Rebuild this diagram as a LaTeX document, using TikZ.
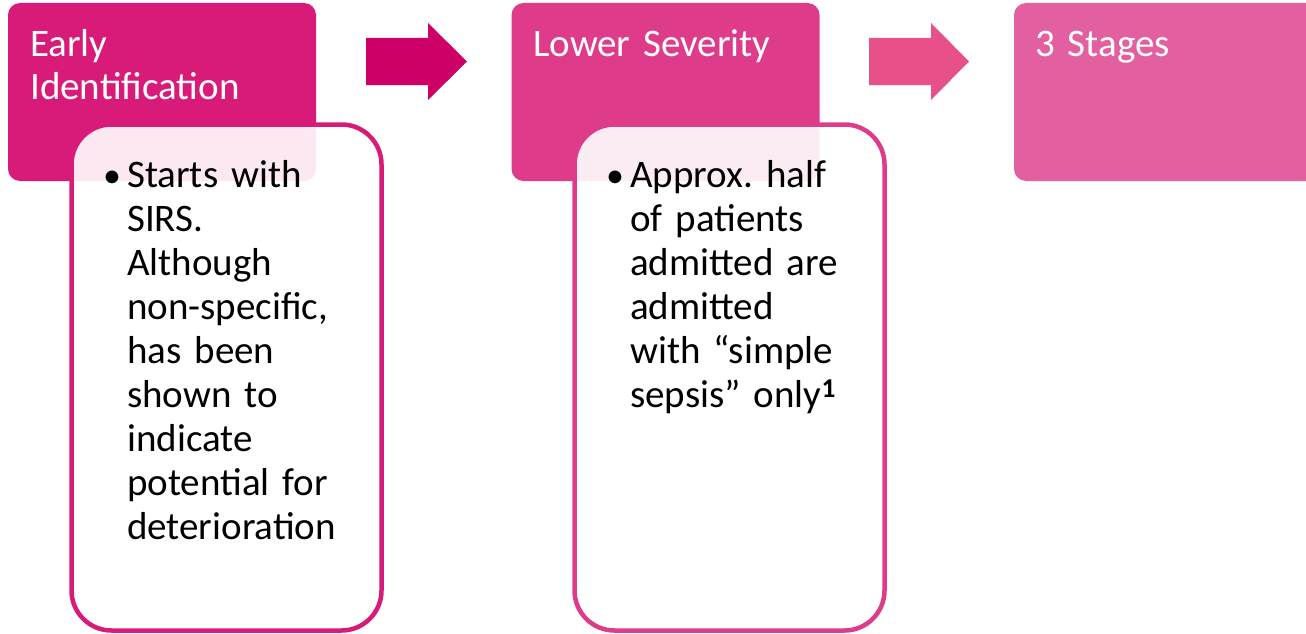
\documentclass[tikz,border=0pt]{standalone}
\usepackage{fontspec}
\setmainfont{Carlito}
\frenchspacing
\definecolor{pinkA}{HTML}{D81B78}
\definecolor{pinkB}{HTML}{DE3C8B}
\definecolor{pinkC}{HTML}{E360A0}
\definecolor{arrowA}{HTML}{CC0066}
\definecolor{arrowB}{HTML}{E8508A}
\tikzset{
  titlebox/.style={rectangle, rounded corners=12pt, minimum width=308pt, minimum height=178pt, inner sep=0pt, draw=none},
  detbox/.style={rectangle, rounded corners=40pt, minimum width=310pt, minimum height=506pt, inner sep=0pt, line width=4.5pt, fill=white, fill opacity=0.9, text opacity=1},
  titletext/.style={anchor=base west, inner sep=0pt, text width=290pt, align=left, text=white, font=\fontsize{39pt}{43pt}\selectfont\frenchspacing},
  bodytext/.style={anchor=base west, inner sep=0pt, text width=260pt, align=left, text=black, font=\fontsize{39pt}{44pt}\selectfont\frenchspacing},
  bullettext/.style={anchor=base, inner sep=0pt, text=black, font=\fontsize{36pt}{44pt}\selectfont},
  blockarrow/.style={draw=none}
}
\begin{document}
\begin{tikzpicture}[x=1pt,y=-1pt]
\useasboundingbox (0,0) rectangle (1306,634);
\clip (0,0) rectangle (1306,634);
% title boxes
\node[titlebox, fill=pinkA] (t1) at (162,92) {};
\node[titlebox, fill=pinkB] (t2) at (665.5,92) {};
\node[titlebox, fill=pinkC, minimum width=330pt] (t3) at (1179,92) {};
% titles
\node[titletext] (l1) at (30,57) {Early\\Identification};
\node[titletext] (l2) at (533,57) {Lower Severity};
\node[titletext] (l3) at (1035,57) {3 Stages};
% arrows
\fill[arrowA] (366,38) -- (428,38) -- (428,23) -- (467,61.5) -- (428,100) -- (428,85) -- (366,85) -- cycle;
\fill[arrowB] (869,38) -- (931,38) -- (931,23) -- (969,61.5) -- (931,100) -- (931,85) -- (869,85) -- cycle;
% detail boxes
\node[detbox, draw=pinkA] (d1) at (226.5,377.5) {};
\node[detbox, draw=pinkB] (d2) at (729.5,377.5) {};
% bullets and text
\node[bullettext] (b1) at (112,187) {•};
\node[bodytext] (x1) at (127,187) {Starts with\\SIRS.\\Although\\non-specific,\\has been\\shown to\\indicate\\potential for\\deterioration};
\node[bullettext] (b2) at (615,187) {•};
\node[bodytext] (x2) at (630,187) {Approx. half\\of patients\\admitted are\\admitted\\with “simple\\sepsis” only\textsuperscript{\textbf{1}}};
\end{tikzpicture}
\end{document}
